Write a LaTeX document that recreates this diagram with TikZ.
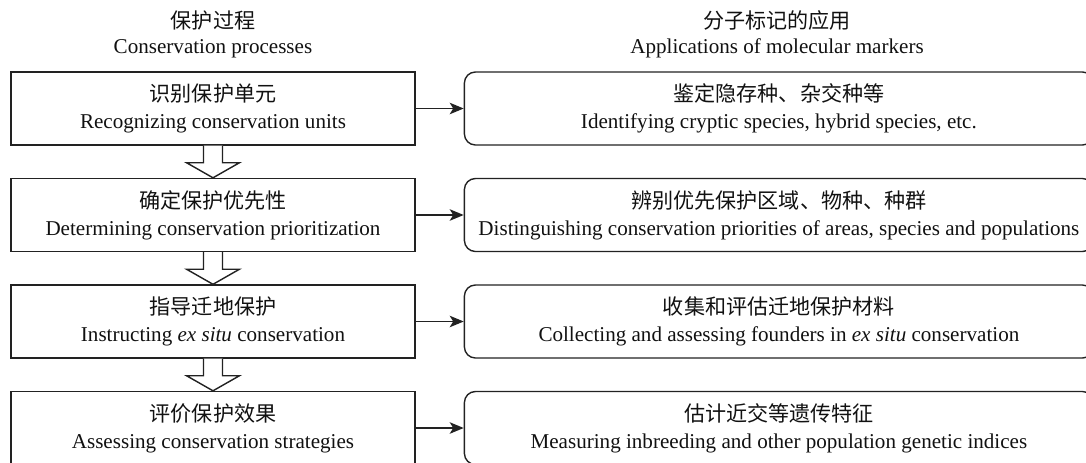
\documentclass[tikz,border=0pt]{standalone}
\usepackage{fontspec}
\setmainfont{Liberation Serif}
\newfontfamily\cjk{Noto Sans CJK SC}
\usepackage{xcolor}
\usepackage{tikz}
\usetikzlibrary{positioning, arrows.meta, calc}
\definecolor{flow-line}{HTML}{222222}
\definecolor{flow-text}{HTML}{111111}

\begin{document}
\begin{tikzpicture}[
    procbox/.style={draw=flow-line, line width=0.8pt, minimum width=8.08cm,
                 minimum height=1.46cm, align=center, text=flow-text,
                 font=\fontsize{12}{15.3}\selectfont},
    usebox/.style={procbox, rounded corners=0.22cm, minimum width=12.58cm},
    head/.style={align=center, text=flow-text, font=\fontsize{12}{14.2}\selectfont},
    arr/.style={-{Stealth[length=2.8mm, width=2.3mm, inset=0.7mm]}, line width=0.8pt, flow-line},
    hollow/.style={line width=0.8pt, flow-line, fill=white},
]
    \useasboundingbox (0,0) rectangle (21.72,-9.24);

    % Column heads
    \node[head] (hl) at (4.26,-0.69) {{\cjk 保护过程}\\Conservation processes};
    \node[head] (hr) at (15.54,-0.69) {{\cjk 分子标记的应用}\\Applications of molecular markers};

    % Conservation steps
    \node[procbox] (l1) at (4.26,-2.17) {{\cjk 识别保护单元}\\Recognizing conservation units};
    \node[procbox] (l2) at (4.26,-4.30) {{\cjk 确定保护优先性}\\Determining conservation prioritization};
    \node[procbox] (l3) at (4.26,-6.43) {{\cjk 指导迁地保护}\\Instructing \textit{ex situ} conservation};
    \node[procbox] (l4) at (4.26,-8.56) {{\cjk 评价保护效果}\\Assessing conservation strategies};

    % Marker applications
    \node[usebox, right=0.96cm of l1] (r1) {{\cjk 鉴定隐存种、杂交种等}\\Identifying cryptic species, hybrid species, etc.};
    \node[usebox, right=0.96cm of l2] (r2) {{\cjk 辨别优先保护区域、物种、种群}\\Distinguishing conservation priorities of areas, species and populations};
    \node[usebox, right=0.96cm of l3] (r3) {{\cjk 收集和评估迁地保护材料}\\Collecting and assessing founders in \textit{ex situ} conservation};
    \node[usebox, right=0.96cm of l4] (r4) {{\cjk 估计近交等遗传特征}\\Measuring inbreeding and other population genetic indices};

    % Hollow arrows between steps
    \foreach \a/\b in {l1/l2, l2/l3, l3/l4}
        \draw[hollow] ($(\a.south)+(-0.19,0)$) -- ++(0,-0.34) -- ++(-0.34,0) -- (\b.north)
            -- ($(\a.south)+(0.53,-0.34)$) -- ++(-0.34,0) -- ($(\a.south)+(0.19,0)$);

    % Links to applications
    \foreach \i in {1,...,4}
        \draw[arr] (l\i.east) -- (r\i.west);
\end{tikzpicture}
\end{document}
